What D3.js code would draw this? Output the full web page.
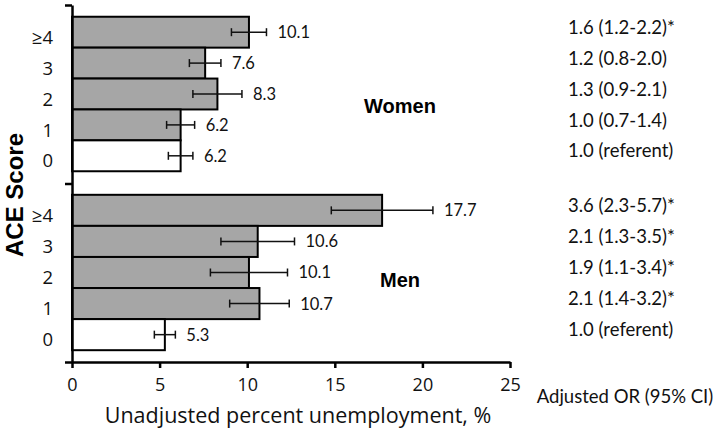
<!DOCTYPE html>
<html><head><meta charset="utf-8">
<script src="https://cdn.jsdelivr.net/npm/d3@7"></script>
<style>body{margin:0;background:#fff}</style>
</head><body>
<svg id="c" width="715" height="431"></svg>
<script>
const categories = ["≥4","3","2","1","0"];
const womenValues = [10.1, 7.6, 8.3, 6.2, 6.2];
const womenLow    = [9.1, 6.7, 6.9, 5.4, 5.5];
const womenHigh   = [11.1, 8.5, 9.7, 7.0, 6.9];
const womenOR     = ["1.6 (1.2-2.2)*","1.2 (0.8-2.0)","1.3 (0.9-2.1)","1.0 (0.7-1.4)","1.0 (referent)"];
const menValues = [17.7, 10.6, 10.1, 10.7, 5.3];
const menLow    = [14.8, 8.5, 7.9, 9.0, 4.7];
const menHigh   = [20.6, 12.7, 12.3, 12.4, 5.9];
const menOR     = ["3.6 (2.3-5.7)*","2.1 (1.3-3.5)*","1.9 (1.1-3.4)*","2.1 (1.4-3.2)*","1.0 (referent)"];
const xTicks = [0,5,10,15,20,25];

const svg = d3.select("#c");
const x = d3.scaleLinear().domain([0,25]).range([72,510]);
const top0 = 5, mid = 183, bot = 362;
const yW = d3.scaleBand().domain(categories).range([top0, mid]).paddingInner(0).paddingOuter(0.38);
const yM = d3.scaleBand().domain(categories).range([mid, bot]).paddingInner(0).paddingOuter(0.38);

const numFont = "Lato, 'Open Sans', sans-serif";
const axFont = "'Open Sans', 'Noto Sans', sans-serif";

function group(y, vals, lo, hi, ors){
  const rows = categories.map((c,i)=>({c, v:vals[i], lo:lo[i], hi:hi[i], or:ors[i]}));
  const g = svg.append("g");
  g.selectAll("rect").data(rows).join("rect")
    .attr("x", x(0)).attr("y", d=>y(d.c))
    .attr("width", d=>x(d.v)-x(0)).attr("height", y.bandwidth())
    .attr("fill", d=>d.c==="0" ? "#ffffff" : "#a6a6a6")
    .attr("stroke", "#000").attr("stroke-width", 2);
  const eb = g.selectAll("g.eb").data(rows).join("g").attr("class","eb");
  eb.append("line").attr("x1", d=>x(d.lo)).attr("x2", d=>x(d.hi))
    .attr("y1", d=>y(d.c)+y.bandwidth()/2).attr("y2", d=>y(d.c)+y.bandwidth()/2)
    .attr("stroke","#111").attr("stroke-width",1.5);
  ["lo","hi"].forEach(k=>{
    eb.append("line").attr("x1", d=>x(d[k])).attr("x2", d=>x(d[k]))
      .attr("y1", d=>y(d.c)+y.bandwidth()/2-4).attr("y2", d=>y(d.c)+y.bandwidth()/2+4)
      .attr("stroke","#111").attr("stroke-width",1.5);
  });
  g.selectAll("text.val").data(rows).join("text").attr("class","val")
    .attr("x", d=>x(d.hi)+11).attr("y", d=>y(d.c)+y.bandwidth()/2)
    .attr("dy","0.36em").attr("font-family", numFont).attr("font-size", 16.5)
    .attr("fill","#111").text(d=>d.v.toFixed(1));
  g.selectAll("text.or").data(rows).join("text").attr("class","or")
    .attr("x", 568).attr("y", d=>y(d.c)+y.bandwidth()/2-5)
    .attr("dy","0.36em").attr("font-family", numFont).attr("font-size", 18.5)
    .attr("fill","#111").text(d=>d.or);
  g.selectAll("text.cat").data(rows).join("text").attr("class","cat")
    .attr("x", 53).attr("y", d=>y(d.c)+y.bandwidth()/2+5)
    .attr("dy","0.36em").attr("text-anchor","end").attr("font-family", axFont).attr("font-size", 18.5)
    .attr("fill","#111").text(d=>d.c);
}
group(yW, womenValues, womenLow, womenHigh, womenOR);
group(yM, menValues, menLow, menHigh, menOR);

// x axis
const xAxis = d3.axisBottom(x).tickValues(xTicks).tickSize(6).tickSizeOuter(0).tickPadding(10);
const gx = svg.append("g").attr("transform", `translate(0,${bot})`).call(xAxis);
gx.select(".domain").attr("stroke","#000").attr("stroke-width",2.5);
gx.selectAll(".tick line").attr("stroke","#000").attr("stroke-width",2.5);
gx.selectAll(".tick text").attr("font-family", axFont).attr("font-size", 18).attr("fill","#111");

// y axis line with group ticks
const yAxisScale = d3.scaleLinear().domain([0,2]).range([bot, top0]);
const gy = svg.append("g").attr("transform", `translate(${x(0)},0)`)
  .call(d3.axisLeft(yAxisScale).tickValues([0,1,2]).tickSize(7).tickSizeOuter(0).tickFormat(""));
gy.select(".domain").attr("stroke","#000").attr("stroke-width",2.5);
gy.selectAll(".tick line").attr("stroke","#000").attr("stroke-width",2.5);

svg.append("text").attr("x", 298).attr("y", 423).attr("text-anchor","middle")
  .attr("font-family", axFont).attr("font-size", 21.5).attr("fill","#111")
  .text("Unadjusted percent unemployment, %");
svg.append("text").attr("transform","translate(23,195) rotate(-90)").attr("text-anchor","middle")
  .attr("font-family","'Liberation Sans', Arial, sans-serif").attr("font-weight","bold").attr("font-size", 24)
  .attr("fill","#000").text("ACE Score");
svg.append("text").attr("x", 625).attr("y", 396).attr("dy","0.36em").attr("text-anchor","middle")
  .attr("font-family", numFont).attr("font-size", 18.5).attr("fill","#111").text("Adjusted OR (95% CI)");
svg.append("text").attr("x", 400).attr("y", 106).attr("dy","0.36em").attr("text-anchor","middle")
  .attr("font-family","'Liberation Sans', Arial, sans-serif").attr("font-weight","bold").attr("font-size", 20)
  .attr("fill","#000").text("Women");
svg.append("text").attr("x", 400).attr("y", 280).attr("dy","0.36em").attr("text-anchor","middle")
  .attr("font-family","'Liberation Sans', Arial, sans-serif").attr("font-weight","bold").attr("font-size", 20)
  .attr("fill","#000").text("Men");
</script>
</body></html>
